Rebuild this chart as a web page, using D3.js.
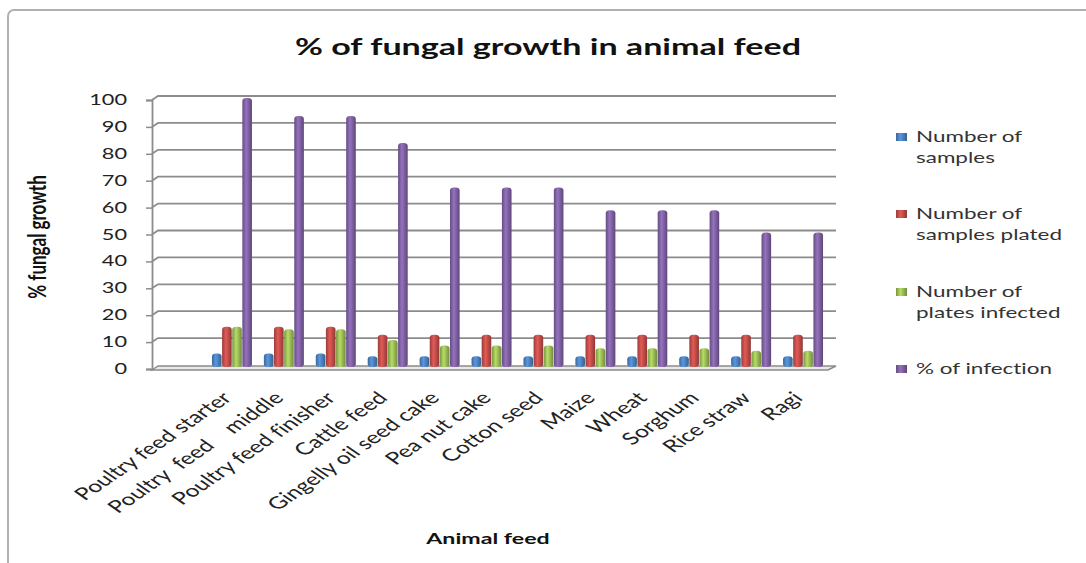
<!DOCTYPE html>
<html>
<head>
<meta charset="utf-8">
<script src="https://cdn.jsdelivr.net/npm/d3@7"></script>
<style>
  body { margin: 0; background: #fff; }
  svg { display: block; }
  text { font-variant-ligatures: none; }
</style>
</head>
<body>
<svg id="chart" width="1086" height="563"></svg>
<script>
// Data
const categories = ["Poultry feed starter", "Poultry  feed    middle", "Poultry feed finisher", "Cattle feed",
  "Gingelly oil seed cake", "Pea nut cake", "Cotton seed", "Maize", "Wheat", "Sorghum", "Rice straw", "Ragi"]
const numberOfSamples = [5, 5, 5, 4, 4, 4, 4, 4, 4, 4, 4, 4]
const samplesPlated = [15, 15, 15, 12, 12, 12, 12, 12, 12, 12, 12, 12]
const platesInfected = [15, 14, 14, 10, 8, 8, 8, 7, 7, 7, 6, 6]
const percentInfection = [100, 93.3, 93.3, 83.3, 66.7, 66.7, 66.7, 58.3, 58.3, 58.3, 50, 50]
const seriesNames = ["Number of samples", "Number of samples plated", "Number of plates infected", "% of infection"]
const legendLines = [["Number of", "samples"], ["Number of", "samples plated"], ["Number of", "plates infected"], ["% of infection"]]
const yTicks = [0, 10, 20, 30, 40, 50, 60, 70, 80, 90, 100]

const seriesValues = [numberOfSamples, samplesPlated, platesInfected, percentInfection]
const colors = ["#4a7ebb", "#be4b48", "#98b954", "#7d5fa0"]

// the screenshot is stretched sideways, so every text gets the same horizontal scale
const SX = 1.45

const svg = d3.select("#chart")

// outer chart border (runs off the right and bottom edges like the screenshot)
svg.append("rect")
  .attr("x", 8).attr("y", 10).attr("width", 1100).attr("height", 580)
  .attr("rx", 6)
  .attr("fill", "#fff").attr("stroke", "#b0b0b0").attr("stroke-width", 2)

// horizontal gradients to give the bars a cylinder look
const defs = svg.append("defs")
colors.forEach((c, i) => {
  const g = defs.append("linearGradient").attr("id", "grad" + i)
    .attr("x1", "0").attr("x2", "1").attr("y1", "0").attr("y2", "0")
  g.append("stop").attr("offset", "0%").attr("stop-color", d3.color(c).darker(0.6))
  g.append("stop").attr("offset", "40%").attr("stop-color", d3.color(c).brighter(0.5))
  g.append("stop").attr("offset", "100%").attr("stop-color", d3.color(c).darker(0.8))
})

// scales
const y = d3.scaleLinear().domain([0, 100]).range([369, 100])
const x = d3.scaleBand().domain(categories).range([206, 829])
const inner = d3.scaleBand().domain(seriesNames).range([-20, 20]).paddingInner(0.05)

const axisX = 152, wallX = 158, wallRight = 836, depth = 4

// floor
svg.append("path")
  .attr("d", `M${axisX},${y(0) + 1}L${wallX},${y(0) - depth + 1}L${wallRight},${y(0) - depth + 1}L${wallRight - 8},${y(0) + 1}Z`)
  .attr("fill", "#e8e8e8").attr("stroke", "#8c8c8c").attr("stroke-width", 1.5)

// gridlines on the back wall, with a small slanted join to the axis
svg.append("g").selectAll("path")
  .data(yTicks.slice(1))
  .join("path")
  .attr("d", d => `M${axisX},${y(d)}L${wallX},${y(d) - depth}L${wallRight},${y(d) - depth}`)
  .attr("fill", "none").attr("stroke", "#8c8c8c").attr("stroke-width", 1.8)

// y axis (line and ticks from d3, labels drawn stretched below)
const yAxis = svg.append("g")
  .attr("transform", `translate(${axisX},0)`)
  .call(d3.axisLeft(y).tickValues(yTicks).tickSize(6).tickFormat(""))
yAxis.select(".domain").attr("stroke", "#8c8c8c").attr("stroke-width", 1.8)
yAxis.selectAll(".tick line").attr("stroke", "#8c8c8c").attr("stroke-width", 1.5)

svg.append("g").selectAll("text")
  .data(yTicks)
  .join("text")
  .attr("transform", d => `translate(127,${y(d) + 5}) scale(${SX},1)`)
  .attr("text-anchor", "end")
  .attr("font-family", "Lato").attr("font-size", 15).attr("fill", "#222")
  .text(d => d)

// bars, one group per category
const groups = svg.append("g").selectAll("g")
  .data(categories)
  .join("g")
  .attr("transform", d => `translate(${x(d) + x.bandwidth() / 2},0)`)

groups.selectAll("rect")
  .data((d, i) => seriesValues.map((vals, s) => ({ s, name: seriesNames[s], value: vals[i] })))
  .join("rect")
  .attr("x", d => inner(d.name))
  .attr("width", inner.bandwidth())
  .attr("y", d => y(d.value) - 2)
  .attr("height", d => y(0) - y(d.value))
  .attr("rx", 4).attr("ry", 3)
  .attr("fill", d => `url(#grad${d.s})`)

// rotated category labels (45 degrees before the sideways stretch)
svg.append("g").selectAll("text")
  .data(categories)
  .join("text")
  .attr("transform", d => `translate(${x(d) + x.bandwidth() / 2 + 1},399) scale(${SX},1) rotate(-45)`)
  .attr("text-anchor", "end")
  .attr("font-family", "Lato").attr("font-size", 17).attr("fill", "#222")
  .style("white-space", "pre")
  .text(d => d)

// title
svg.append("text")
  .attr("transform", `translate(548,55) scale(${SX},1)`)
  .attr("text-anchor", "middle")
  .attr("font-family", "Lato").attr("font-weight", "bold").attr("font-size", 23.5).attr("fill", "#111")
  .text("% of fungal growth in animal feed")

// axis titles
svg.append("text")
  .attr("transform", `translate(46,237) scale(${SX},1) rotate(-90)`)
  .attr("text-anchor", "middle")
  .attr("font-family", "Lato").attr("font-weight", "bold").attr("font-size", 17).attr("fill", "#111")
  .text("% fungal growth")

svg.append("text")
  .attr("transform", `translate(488,544) scale(${SX},1)`)
  .attr("text-anchor", "middle")
  .attr("font-family", "Lato").attr("font-weight", "bold").attr("font-size", 16).attr("fill", "#111")
  .text("Animal feed")

// legend
const legendTop = [137, 214, 292, 369]
const legend = svg.append("g").selectAll("g")
  .data(seriesNames)
  .join("g")
  .attr("transform", (d, i) => `translate(896,${legendTop[i]})`)

legend.append("rect")
  .attr("x", 0).attr("y", -4).attr("width", 11).attr("height", 8)
  .attr("fill", (d, i) => `url(#grad${i})`)

legend.append("text")
  .attr("transform", `translate(20,0) scale(${SX},1)`)
  .attr("font-family", "Lato").attr("font-size", 15.5).attr("fill", "#333")
  .selectAll("tspan")
  .data((d, i) => legendLines[i])
  .join("tspan")
  .attr("x", 0)
  .attr("y", (d, j) => 5 + j * 21)
  .text(d => d)
</script>
</body>
</html>
